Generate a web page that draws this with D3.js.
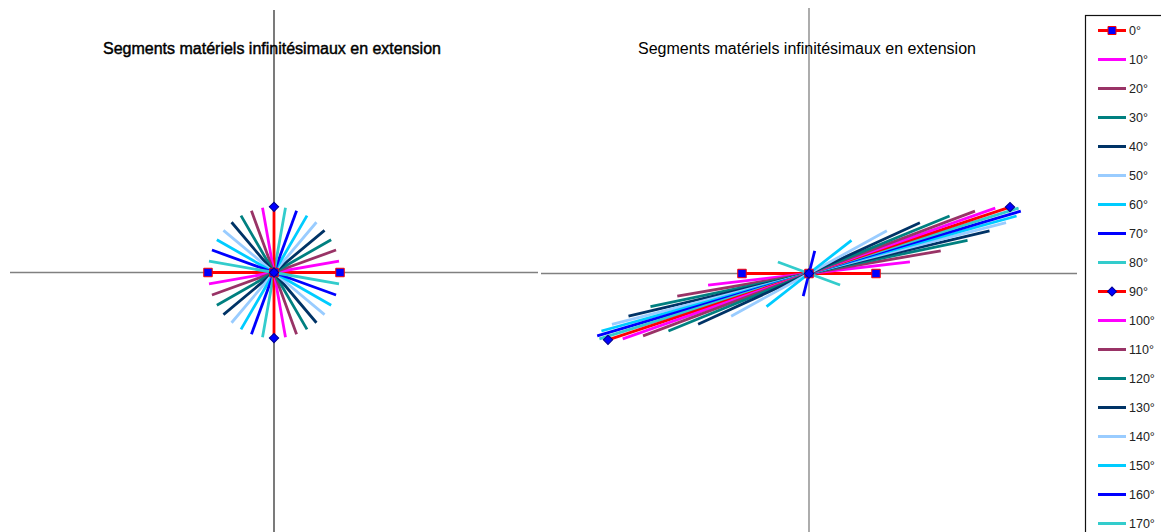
<!DOCTYPE html>
<html><head><meta charset="utf-8">
<script src="https://cdn.jsdelivr.net/npm/d3@7"></script>
<style>html,body{margin:0;padding:0;background:#fff;overflow:hidden}svg{display:block}</style>
</head><body>
<svg id="c" width="1161" height="532"></svg>
<script>
// ---- data ----
const titleText = "Segments matériels infinitésimaux en extension";
const angles = [0,10,20,30,40,50,60,70,80,90,100,110,120,130,140,150,160,170];
const seriesLabels = angles.map(a => a + "°");
const seriesColors = ["#FF0000","#FF00FF","#993366","#008080","#003366","#99CCFF","#00CCFF","#0000FF","#33CCCC",
                      "#FF0000","#FF00FF","#993366","#008080","#003366","#99CCFF","#00CCFF","#0000FF","#33CCCC"];
// end point (x, y) of each segment, before deformation (other end is the opposite point, middle at origin)
const initX = [1.000,0.985,0.940,0.866,0.766,0.643,0.500,0.342,0.174,0.000,-0.174,-0.342,-0.500,-0.643,-0.766,-0.866,-0.940,-0.985];
const initY = [0.000,0.174,0.342,0.500,0.643,0.766,0.866,0.940,0.985,1.000,0.985,0.940,0.866,0.766,0.643,0.500,0.342,0.174];
// end point after deformation
const defX  = [1.000,1.506,1.966,2.366,2.694,2.941,3.098,3.161,3.128,3.000,2.780,2.477,2.098,1.655,1.162,0.634,0.086,-0.464];
const defY  = [0.000,0.174,0.342,0.500,0.643,0.766,0.866,0.940,0.985,1.000,0.985,0.940,0.866,0.766,0.643,0.500,0.342,0.174];
const markerSeries = {0: "square", 9: "diamond"};

const svg = d3.select("#c");
const font = "'Liberation Sans', Arial, sans-serif";

function markerPath(type, legend) {
  return type === "square"
    ? d3.symbol().type(d3.symbolSquare).size(legend ? 64 : 72)()
    : d3.symbol().type(d3.symbolSquare).size(legend ? 40 : 44)();
}

function panel(xs, ys, ex, ey, vColor, hColor, titleX, bold) {
  const g = svg.append("g");
  // axes
  g.append("line").attr("x1", xs(-4)).attr("x2", xs(4)).attr("y1", ys(0)).attr("y2", ys(0))
    .attr("stroke", hColor).attr("stroke-width", 1.3);
  g.append("line").attr("x1", xs(0)).attr("x2", xs(0)).attr("y1", ys(4)).attr("y2", ys(-4))
    .attr("stroke", vColor).attr("stroke-width", 1.3);
  const t = g.append("text").attr("x", titleX).attr("y", 54).attr("text-anchor", "middle")
    .attr("font-family", font).attr("font-size", 16).attr("fill", "#000").text(titleText);
  if (bold) t.attr("stroke", "#000").attr("stroke-width", 0.45);
  const line = d3.line().x(d => xs(d[0])).y(d => ys(d[1]));
  const data = angles.map((a, i) => [[-ex[i], -ey[i]], [0, 0], [ex[i], ey[i]]]);
  g.selectAll("path.seg").data(data).join("path").attr("class", "seg")
    .attr("d", line).attr("fill", "none")
    .attr("stroke", (d, i) => seriesColors[i]).attr("stroke-width", 2.8);
  Object.entries(markerSeries).forEach(([idx, type]) => {
    g.selectAll("path.m" + idx).data(data[+idx]).join("path").attr("class", "m" + idx)
      .attr("d", markerPath(type, false))
      .attr("transform", d => `translate(${xs(d[0])},${ys(d[1])})` + (type === "diamond" ? " rotate(45)" : ""))
      .attr("fill", "#0000FF").attr("stroke", type === "square" ? "#FF0000" : "#000090").attr("stroke-width", 1);
  });
}

const xL = d3.scaleLinear().domain([-4, 4]).range([10, 538]);
const yL = d3.scaleLinear().domain([-4, 4]).range([535, 10]);
const xR = d3.scaleLinear().domain([-4, 4]).range([541, 1077]);
const yR = d3.scaleLinear().domain([-4, 4]).range([539, 8]);

panel(xL, yL, initX, initY, "#333333", "#808080", 272, true);
panel(xR, yR, defX, defY, "#808080", "#808080", 807, false);

// legend
const lg = svg.append("g");
lg.append("rect").attr("x", 1085.5).attr("y", 15.5).attr("width", 120).attr("height", 600)
  .attr("fill", "#fff").attr("stroke", "#111").attr("stroke-width", 1.2);
const rowY = i => 30.5 + 29 * i;
const items = lg.selectAll("g.it").data(seriesLabels).join("g").attr("class", "it")
  .attr("transform", (d, i) => `translate(0,${rowY(i)})`);
items.append("line").attr("x1", 1098).attr("x2", 1126).attr("y1", 0).attr("y2", 0)
  .attr("stroke", (d, i) => seriesColors[i]).attr("stroke-width", 3);
items.append("text").attr("x", 1129).attr("y", 4.5).attr("font-family", font).attr("font-size", 12.5)
  .attr("fill", "#222").text(d => d);
Object.entries(markerSeries).forEach(([idx, type]) => {
  lg.append("path").attr("d", markerPath(type, true))
    .attr("transform", `translate(1112,${rowY(+idx)})` + (type === "diamond" ? " rotate(45)" : ""))
    .attr("fill", "#0000FF").attr("stroke", type === "square" ? "#FF0000" : "#000090").attr("stroke-width", 1);
});
</script>
</body></html>
